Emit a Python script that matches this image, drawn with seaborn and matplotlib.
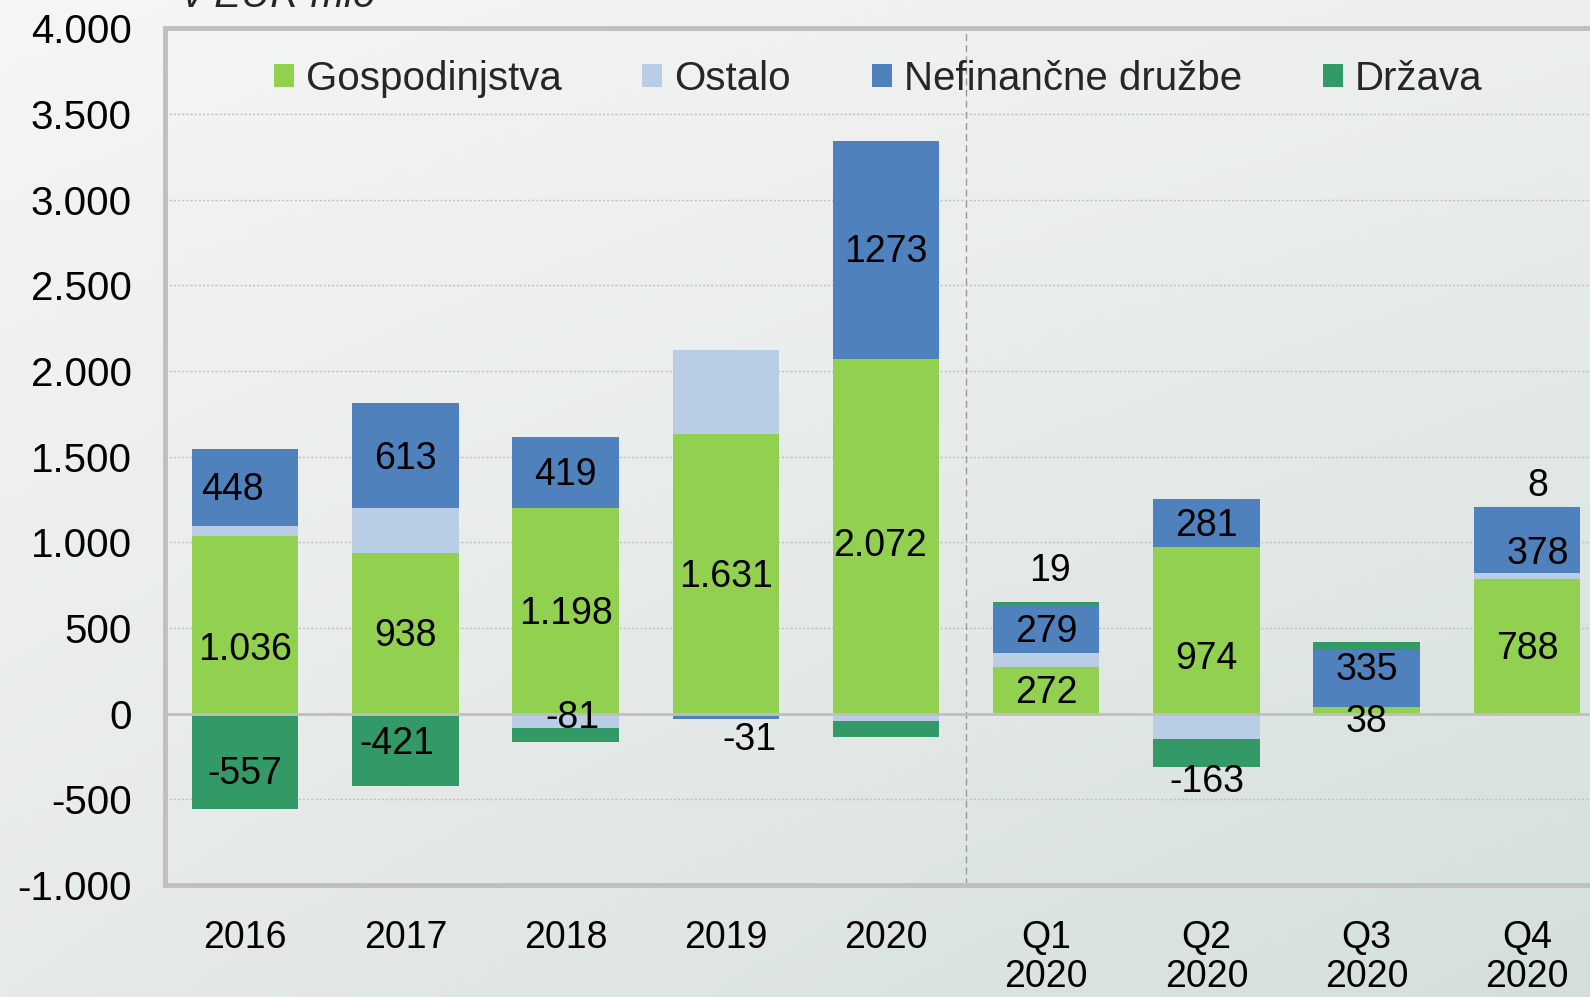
import numpy as np
import pandas as pd
import matplotlib
matplotlib.use("Agg")
import matplotlib.pyplot as plt
from matplotlib.patches import Patch
import seaborn as sns

# -------------------------------
# Data (EUR mio)
# -------------------------------
categories = ["2016", "2017", "2018", "2019", "2020",
              "Q1 2020", "Q2 2020", "Q3 2020", "Q4 2020"]
tick_labels = ["2016", "2017", "2018", "2019", "2020",
               "Q1\n2020", "Q2\n2020", "Q3\n2020", "Q4\n2020"]

gospodinjstva = [1036, 938, 1198, 1631, 2072, 272, 974, 38, 788]
ostalo = [62, 260, -81, 490, -45, 84, -146, 0, 35]
nefinancne = [448, 613, 419, -31, 1273, 279, 281, 335, 378]
drzava = [-557, -421, -85, 0, -91, 19, -163, 45, 8]

series_names = ["Gospodinjstva", "Ostalo", "Nefinančne družbe", "Država"]
series_values = [gospodinjstva, ostalo, nefinancne, drzava]
colors = ["#92D050", "#B9CDE5", "#4F81BD", "#339966"]

# which segments carry a data label
labelled = {
    "Gospodinjstva": ["2016", "2017", "2018", "2019", "2020",
                      "Q1 2020", "Q2 2020", "Q3 2020", "Q4 2020"],
    "Ostalo": ["2018"],
    "Nefinančne družbe": ["2016", "2017", "2018", "2019", "2020",
                          "Q1 2020", "Q2 2020", "Q3 2020", "Q4 2020"],
    "Država": ["2016", "2017", "Q1 2020", "Q2 2020", "Q4 2020"],
}
# label nudges (points) away from segment centre
nudges = {
    ("Gospodinjstva", "2016"): (0, -16),
    ("Gospodinjstva", "2020"): (-4, -5),
    ("Gospodinjstva", "Q2 2020"): (0, -19),
    ("Gospodinjstva", "Q3 2020"): (0, -6),
    ("Ostalo", "2018"): (5, 4),
    ("Nefinančne družbe", "2016"): (-9, 0),
    ("Nefinančne družbe", "2019"): (17, -15),
    ("Nefinančne družbe", "Q3 2020"): (0, 8),
    ("Nefinančne družbe", "Q4 2020"): (8, -8),
    ("Država", "2016"): (0, -7),
    ("Država", "2017"): (-6, 6),
    ("Država", "Q1 2020"): (3, 25),
    ("Država", "Q2 2020"): (0, -19),
    ("Država", "Q4 2020"): (8, 17),
}


def fmt_sep(v):
    return f"{v:,.0f}".replace(",", ".")


label_fmt = {"Gospodinjstva": fmt_sep, "Ostalo": fmt_sep,
             "Nefinančne družbe": lambda v: f"{v:.0f}", "Država": fmt_sep}

# -------------------------------
# Figure
# -------------------------------
sns.set_theme(style="white")
plt.rcParams["font.family"] = ["Liberation Sans", "DejaVu Sans"]
narrow = ["Liberation Sans Narrow", "Liberation Sans", "DejaVu Sans"]

W, H = 1590, 997
fig = plt.figure(figsize=(W / 100, H / 100), dpi=100)

# soft gradient background
bg = fig.add_axes([0, 0, 1, 1], zorder=-10)
tl, tr = np.array([0xF5, 0xF6, 0xF6]), np.array([0xEC, 0xEF, 0xEE])
bl, br = np.array([0xE6, 0xEA, 0xE9]), np.array([0xD4, 0xDF, 0xDB])
xx, yy = np.meshgrid(np.linspace(0, 1, 200), np.linspace(0, 1, 200))
img = ((1 - xx)[..., None] * (1 - yy)[..., None] * tl + xx[..., None] * (1 - yy)[..., None] * tr
       + (1 - xx)[..., None] * yy[..., None] * bl + xx[..., None] * yy[..., None] * br) / 255
bg.imshow(img, aspect="auto", extent=[0, 1, 0, 1], origin="upper")
bg.axis("off")

ax = fig.add_axes([165 / W, 1 - 885 / H, (1607 - 165) / W, (885 - 28.4) / H])
ax.set_facecolor("none")

pos_bottom = np.zeros(len(categories))
neg_bottom = np.zeros(len(categories))
centres = {}
for name, vals, col in zip(series_names, series_values, colors):
    vals = np.array(vals, dtype=float)
    bottom = np.where(vals >= 0, pos_bottom, neg_bottom)
    df = pd.DataFrame({"cat": categories, "val": vals})
    sns.barplot(data=df, x="cat", y="val", order=categories, color=col,
                saturation=1, errorbar=None, width=0.665, bottom=bottom,
                linewidth=0, ax=ax, zorder=3)
    for i, c in enumerate(categories):
        centres[(name, c)] = (i, bottom[i] + vals[i] / 2, vals[i])
    pos_bottom = pos_bottom + np.where(vals > 0, vals, 0)
    neg_bottom = neg_bottom + np.where(vals < 0, vals, 0)

# data labels
for name in series_names:
    for c in labelled[name]:
        i, yc, v = centres[(name, c)]
        dx, dy = nudges.get((name, c), (0, 0))
        ax.annotate(label_fmt[name](v), (i, yc), xytext=(dx, dy - 2),
                    textcoords="offset points", ha="center", va="center",
                    fontsize=27, family=narrow, color="black", zorder=5)

# axes styling
ax.set_xlim(-0.5, 8.5)
ax.set_ylim(-1000, 4000)
ax.set_yticks(np.arange(-1000, 4001, 500))
ax.set_yticklabels([fmt_sep(t) for t in np.arange(-1000, 4001, 500)], fontsize=29)
ax.set_xticks(range(len(categories)))
ax.set_xticklabels(tick_labels, fontsize=27, family=narrow, va="top", linespacing=1.1)
ax.tick_params(axis="both", length=0, colors="black")
ax.tick_params(axis="y", pad=24)
ax.tick_params(axis="x", pad=25)
ax.set_xlabel("")
ax.set_ylabel("")

ax.yaxis.grid(True, color="#BFBFBF", linestyle=(0, (1.5, 1.5)), linewidth=1, zorder=0)
ax.axhline(0, color="#BFBFBF", linewidth=2, zorder=4)
ax.axvline(4.5, color="#999999", linestyle=(0, (5, 3)), linewidth=1, zorder=1)

for side in ["left", "bottom", "top"]:
    ax.spines[side].set_color("#BFBFBF")
    ax.spines[side].set_linewidth(3.5)
ax.spines["right"].set_visible(False)

handles = [Patch(facecolor=c, edgecolor="none") for c in colors]
ax.legend(handles, series_names, loc="center", ncol=4, frameon=False,
          bbox_to_anchor=(878 / W, 1 - 79 / H), bbox_transform=fig.transFigure,
          fontsize=29, handlelength=0.5, handleheight=0.5, handletextpad=0.3,
          columnspacing=2.0)

fig.text(183 / W, 1 - 7 / H, "v EUR mio", fontsize=29, style="italic",
         ha="left", va="baseline")

fig.savefig("out.png", dpi=100)
